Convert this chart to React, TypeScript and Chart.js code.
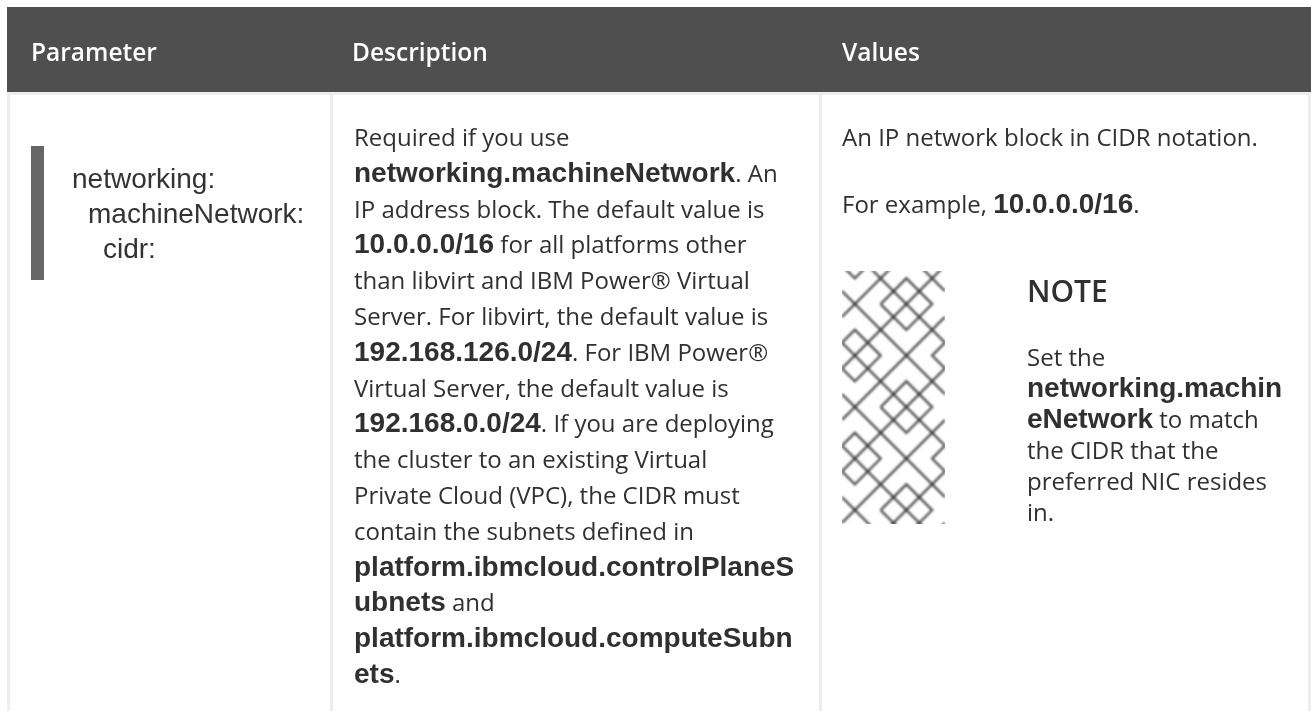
import React, { useEffect, useRef } from "react";
import { Chart, registerables } from "chart.js";
Chart.register(...registerables);

const W = 1311, H = 711;
const SANS = "'Open Sans'";
const BOLD = "'Liberation Sans'";
const REGULAR_SIZE = 24, BOLD_SIZE = 28;

const headers = [["Parameter", 31], ["Description", 352], ["Values", 842]] as const;
const codeLines = [["networking:", 72, 188], ["machineNetwork:", 88, 223], ["cidr:", 103, 258]] as const;
type Run = [string, boolean];
const descLines: Run[][] = [
  [["Required if you use", false]],
  [["networking.machineNetwork", true], [". An", false]],
  [["IP address block. The default value is", false]],
  [["10.0.0.0/16", true], [" for all platforms other", false]],
  [["than libvirt and IBM Power® Virtual", false]],
  [["Server. For libvirt, the default value is", false]],
  [["192.168.126.0/24", true], [". For IBM Power®", false]],
  [["Virtual Server, the default value is", false]],
  [["192.168.0.0/24", true], [". If you are deploying", false]],
  [["the cluster to an existing Virtual", false]],
  [["Private Cloud (VPC), the CIDR must", false]],
  [["contain the subnets defined in", false]],
  [["platform.ibmcloud.controlPlaneS", true]],
  [["ubnets", true], [" and", false]],
  [["platform.ibmcloud.computeSubn", true]],
  [["ets", true], [".", false]],
];
const noteLines: Run[][] = [
  [["Set the", false]],
  [["networking.machin", true]],
  [["eNetwork", true], [" to match", false]],
  [["the CIDR that the", false]],
  [["preferred NIC resides", false]],
  [["in.", false]],
];
const rects = [
  [0, 0, W, H, "#ffffff"],
  [7, 7, 1304, 85, "#4f4f4f"],
  [7, 92, 1304, 3, "#ededed"],
  [7, 92, 3, 619, "#ededed"],
  [330, 92, 3, 619, "#ededed"],
  [819, 92, 3, 619, "#ededed"],
  [1308, 92, 3, 619, "#ededed"],
  [31, 146, 13, 134, "#666666"],
] as const;
// Lattice units of the note icon tile
const tilePaths = [
  [[0, 1], [8, 9]],
  [[8, 3], [0, 11]],
  [[3, 0], [8, 5]],
  [[0, 5], [3, 8]],
  [[8, -1], [0, 7]],
  [[3, 2], [5, 0], [7, 2], [5, 4], [3, 2]],
  [[8, 5], [7, 6], [8, 7]],
  [[0, 5], [1, 4], [3, 6], [1, 8], [0, 7]],
];
const tileRows = [-1, 0, 1, 2];
const iconBox = { x: 842, y: 271, w: 103, h: 253 };
const unit = 12.875, tileTop = 278.3;

const iconDatasets = tileRows.flatMap((row) =>
  tilePaths.map((path) => ({
    data: path.map(([i, j]) => ({ x: iconBox.x + i * unit, y: tileTop + (j + row * 8) * unit })),
    borderColor: "rgba(40,40,40,0.78)",
    borderWidth: 2.4,
    pointRadius: 0,
    fill: false,
    tension: 0,
    clip: false as const,
  }))
);

const tablePlugin = {
  id: "tableText",
  beforeDatasetsDraw(chart: any) {
    const { ctx, scales: { x, y } } = chart;
    for (const [rx, ry, rw, rh, c] of rects) {
      ctx.fillStyle = c;
      const x0 = x.getPixelForValue(rx), y0 = y.getPixelForValue(ry);
      ctx.fillRect(x0, y0, x.getPixelForValue(rx + rw) - x0, y.getPixelForValue(ry + rh) - y0);
    }
    ctx.save();
    ctx.beginPath();
    ctx.rect(x.getPixelForValue(iconBox.x), y.getPixelForValue(iconBox.y), iconBox.w, iconBox.h);
    ctx.clip();
    ctx.filter = "blur(1px)";
  },
  afterDatasetsDraw(chart: any) {
    const { ctx, scales: { x, y } } = chart;
    ctx.filter = "none";
    ctx.restore();
    ctx.textBaseline = "alphabetic";
    ctx.textAlign = "left";
    const put = (s: string, px: number, py: number, font: string, col: string) => {
      ctx.font = font;
      ctx.fillStyle = col;
      ctx.fillText(s, x.getPixelForValue(px), y.getPixelForValue(py));
      return px + ctx.measureText(s).width;
    };
    const TXT = "#303030";
    for (const [s, px] of headers) put(s, px, 61, `600 24.5px ${SANS}`, "#ffffff");
    for (const [s, px, py] of codeLines) put(s, px, py, `${BOLD_SIZE}px ${BOLD}`, "#333333");
    const para = (lines: Run[][], px: number, py: number, step: number) =>
      lines.forEach((runs, i) => {
        let cx = px;
        for (const [s, b] of runs)
          cx = put(s, cx, py + i * step, b ? `bold ${BOLD_SIZE}px ${BOLD}` : `${REGULAR_SIZE}px ${SANS}`, TXT);
      });
    para(descLines, 354, 146, 35.8);
    para([[["An IP network block in CIDR notation.", false]]], 842, 146, 0);
    para([[["For example, ", false], ["10.0.0.0/16", true], [".", false]]], 842, 212.7, 0);
    put("NOTE", 1027, 302, `600 30px ${SANS}`, TXT);
    para(noteLines, 1027, 366, 30.9);
  },
};

export default function App() {
  const ref = useRef<HTMLCanvasElement>(null);
  useEffect(() => {
    const chart = new Chart(ref.current!, {
      type: "line",
      data: { datasets: iconDatasets as any },
      options: {
        animation: false,
        responsive: false,
        layout: { padding: 0 },
        plugins: { legend: { display: false }, tooltip: { enabled: false }, title: { display: false } },
        scales: {
          x: { type: "linear", min: 0, max: W, display: false },
          y: { type: "linear", min: 0, max: H, reverse: true, display: false },
        },
      },
      plugins: [tablePlugin],
    });
    return () => chart.destroy();
  }, []);
  return (
    <div style={{ position: "fixed", left: 0, top: 0, width: W, height: H, background: "#fff" }}>
      <canvas ref={ref} width={W} height={H} style={{ display: "block" }} />
    </div>
  );
}
